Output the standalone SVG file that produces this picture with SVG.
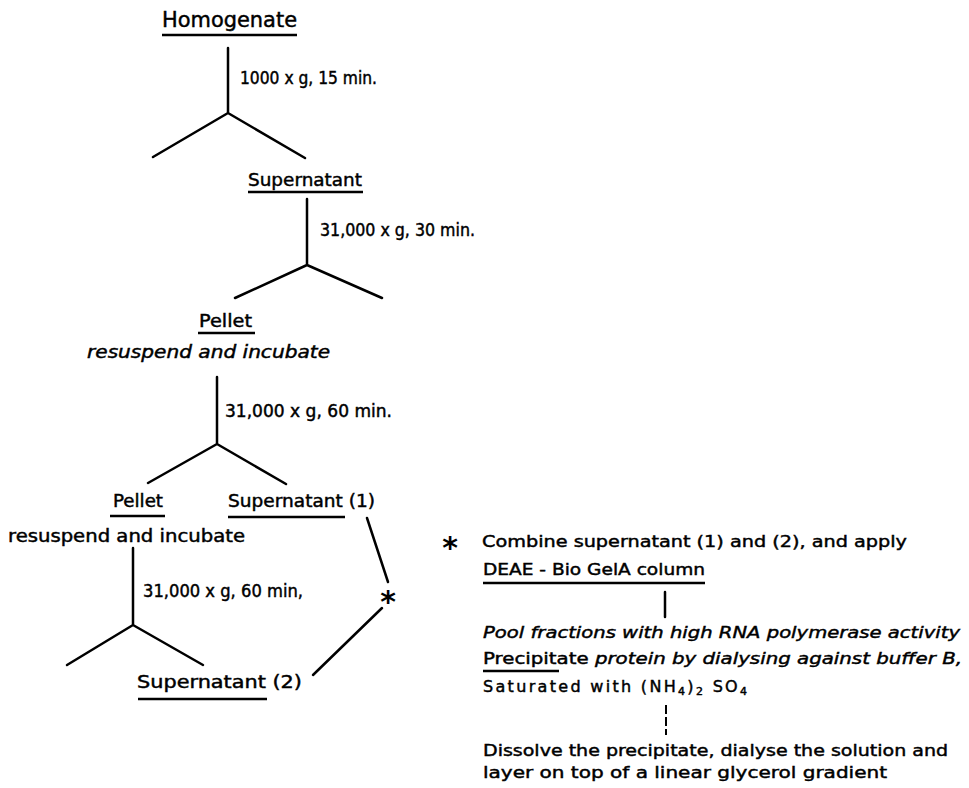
<svg xmlns="http://www.w3.org/2000/svg" width="969" height="788" viewBox="0 0 969 788">
<style>
text{font-family:"DejaVu Sans","Liberation Sans",sans-serif;fill:#000;stroke:#000;stroke-width:0.45}
.n{font-size:17px}
.big{font-size:21px}
.mid{font-size:18px}
.lab{font-size:17px}
.r{font-size:16px}
.it{font-style:italic}
.ul{stroke:#000;stroke-width:2.5;fill:none}
.c{stroke:#000;stroke-width:2.5;fill:none;stroke-linecap:round}
.d{stroke:#000;stroke-width:2;fill:none;stroke-dasharray:9 3}
.ast{font-family:"DejaVu Sans",sans-serif;font-weight:bold;font-size:30px;stroke-width:0}
</style>
<rect width="969" height="788" fill="#fff"/>
<g id="connectors">
<path class="c" d="M228,48V113M228,113L153,157M228,113L305,158"/>
<path class="c" d="M307,199V265M307,265L235,298M307,265L382,298"/>
<path class="c" d="M217,377V444M217,444L148,483M217,444L286,484"/>
<path class="c" d="M133,548V625M133,625L67,665M133,625L203,665"/>
<path class="c" d="M367,518L388,582"/>
<path class="c" d="M382,608L313,675"/>
<path class="c" d="M665,592V617"/>
<path class="d" d="M666,705V735"/>
</g>
<g id="labels">
<text class="lab" x="240" y="84" textLength="137" lengthAdjust="spacingAndGlyphs">1000 x g, 15 min.</text>
<text class="lab" x="320" y="236" textLength="155" lengthAdjust="spacingAndGlyphs">31,000 x g, 30 min.</text>
<text class="lab" x="225" y="417" textLength="167" lengthAdjust="spacingAndGlyphs">31,000 x g, 60 min.</text>
<text class="lab" x="143" y="597" textLength="160" lengthAdjust="spacingAndGlyphs">31,000 x g, 60 min,</text>
</g>
<g id="homogenate">
<text class="big" x="162" y="27" textLength="135" lengthAdjust="spacingAndGlyphs">Homogenate</text>
<line class="ul" x1="162" y1="35" x2="297" y2="35"/>
</g>
<g id="supernatant">
<text class="mid" x="248" y="186" textLength="114" lengthAdjust="spacingAndGlyphs">Supernatant</text>
<line class="ul" x1="248" y1="192" x2="363" y2="192"/>
</g>
<g id="pellet1">
<text class="n" x="199" y="327" textLength="53" lengthAdjust="spacingAndGlyphs">Pellet</text>
<line class="ul" x1="198" y1="333" x2="255" y2="333"/>
<text class="n it" x="87" y="358" textLength="243" lengthAdjust="spacingAndGlyphs">resuspend and incubate</text>
</g>
<g id="pellet2">
<text class="n" x="113" y="507" textLength="50" lengthAdjust="spacingAndGlyphs">Pellet</text>
<line class="ul" x1="110" y1="516" x2="165" y2="516"/>
<text class="n" x="8" y="542" textLength="237" lengthAdjust="spacingAndGlyphs">resuspend and incubate</text>
</g>
<g id="supernatant1">
<text class="n" x="228" y="507" textLength="147" lengthAdjust="spacingAndGlyphs">Supernatant (1)</text>
<line class="ul" x1="228" y1="517" x2="345" y2="517"/>
</g>
<g id="supernatant2">
<text class="n" x="137" y="688" textLength="165" lengthAdjust="spacingAndGlyphs">Supernatant  (2)</text>
<line class="ul" x1="138" y1="699" x2="267" y2="699"/>
</g>
<g id="star">
<text class="ast" x="388" y="612" text-anchor="middle">*</text>
</g>
<g id="combine">
<text class="ast" x="450" y="558" text-anchor="middle">*</text>
<text class="r" x="482" y="547" textLength="425" lengthAdjust="spacingAndGlyphs">Combine supernatant (1) and (2), and apply</text>
<text class="r" x="483" y="575" textLength="222" lengthAdjust="spacingAndGlyphs">DEAE - Bio GelA  column</text>
<line class="ul" x1="483" y1="583" x2="705" y2="583"/>
</g>
<g id="pool">
<text class="r it" x="483" y="638" textLength="477" lengthAdjust="spacingAndGlyphs">Pool fractions with high RNA polymerase activity</text>
<text class="r" x="483" y="664" textLength="479" lengthAdjust="spacingAndGlyphs">Precipitate <tspan class="it">protein by dialysing against buffer B,</tspan></text>
<line class="ul" x1="483" y1="671" x2="559" y2="671"/>
<text class="r" x="483" y="692" textLength="264" lengthAdjust="spacing">Saturated with (NH<tspan font-size="11" dy="3">4</tspan><tspan dy="-3">)</tspan><tspan font-size="11" dy="3">2</tspan><tspan dy="-3"> SO</tspan><tspan font-size="11" dy="3">4</tspan></text>
</g>
<g id="dissolve">
<text class="r" x="483" y="756" textLength="465" lengthAdjust="spacingAndGlyphs">Dissolve the precipitate, dialyse the solution and</text>
<text class="r" x="483" y="778" textLength="404" lengthAdjust="spacingAndGlyphs">layer  on top of a linear glycerol gradient</text>
</g>
</svg>
